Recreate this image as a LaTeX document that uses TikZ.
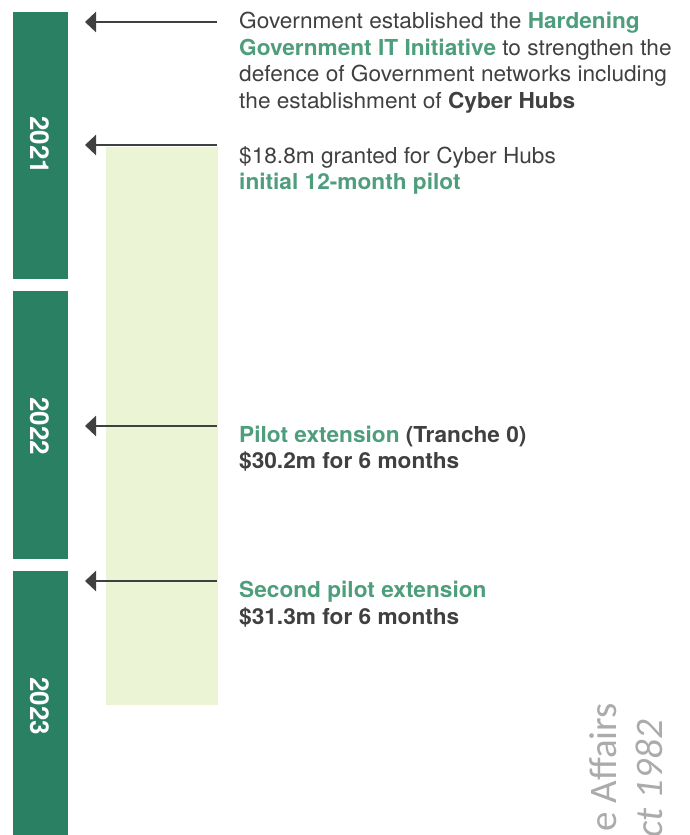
\documentclass[tikz,border=0pt]{standalone}
\usepackage{fontspec}
\setmainfont[FakeStretch=1.03]{TeX Gyre Heros}
\newfontfamily\yearfont{TeX Gyre Heros}
\newfontfamily\wmfont{Carlito}
\usetikzlibrary{arrows.meta}
\definecolor{bargreen}{HTML}{2A8062}
\definecolor{palegreen}{HTML}{EBF5D5}
\definecolor{txtgreen}{HTML}{4E9E7E}
\definecolor{txtgray}{HTML}{404040}
\definecolor{arrgray}{HTML}{404040}
\definecolor{wmgray}{HTML}{ABABAB}
\tikzset{
  yearbar/.style={fill=bargreen, draw=none},
  yearlbl/.style={text=white, font=\yearfont\fontsize{26}{26}\selectfont\bfseries, rotate=-90, inner sep=0pt, anchor=center},
  ptr/.style={draw=arrgray, line width=2.5pt, -{Triangle[length=11pt,width=20pt]}},
  txtline/.style={text=txtgray, font=\fontsize{22}{27}\selectfont, inner sep=0pt, anchor=base west},
  wm/.style={text=wmgray, font=\fontsize{39}{39}\selectfont\wmfont, inner sep=0pt, rotate=90, anchor=base east}
}
\newcommand{\grn}[1]{\textcolor{txtgreen}{\bfseries #1}}
\newcommand{\drk}[1]{{\bfseries #1}}
\begin{document}
\begin{tikzpicture}[x=1pt,y=-1pt]
\useasboundingbox (0,0) rectangle (689,835);
\clip (0,0) rectangle (689,835);
% year bars
\path[yearbar] (13,12) rectangle (68,279);
\path[yearbar] (13,291) rectangle (68,559);
\path[yearbar] (13,571) rectangle (68,840);
\node[yearlbl] (y1) at (39.5,145) {2021};
\node[yearlbl] (y2) at (39.5,426) {2022};
\node[yearlbl] (y3) at (39.5,706) {2023};
% pilot period band
\path[fill=palegreen] (106,147) rectangle (218,705);
% arrows
\coordinate (s1) at (217,22);   \coordinate (e1) at (85,22);
\coordinate (s2) at (217,145);  \coordinate (e2) at (85,145);
\coordinate (s3) at (217,426);  \coordinate (e3) at (85,426);
\coordinate (s4) at (217,581);  \coordinate (e4) at (85,581);
\draw[ptr] (s1) -- (e1);
\draw[ptr] (s2) -- (e2);
\draw[ptr] (s3) -- (e3);
\draw[ptr] (s4) -- (e4);
% text blocks
\node[txtline] (t1a) at (239,28) {Government established the \grn{Hardening}};
\node[txtline] (t1b) at (239,55) {\grn{Government IT Initiative} to strengthen the};
\node[txtline] (t1c) at (239,81.5) {defence of Government networks including};
\node[txtline] (t1d) at (239,108.5) {the establishment of \drk{Cyber Hubs}};
\node[txtline] (t2a) at (239,163) {\$18.8m granted for Cyber Hubs};
\node[txtline] (t2b) at (239,189) {\grn{initial 12-month pilot}};
\node[txtline] (t3a) at (239,442) {\grn{Pilot extension} \drk{(Tranche 0)}};
\node[txtline] (t3b) at (239,468.5) {\drk{\$30.2m for 6 months}};
\node[txtline] (t4a) at (239,597.5) {\grn{Second pilot extension}};
\node[txtline] (t4b) at (239,624.5) {\drk{\$31.3m for 6 months}};
% watermark
\node[wm] (w1) at (616,703) {e Affairs};
\node[wm] (w2) at (662,720) {\itshape ct 1982};
\end{tikzpicture}
\end{document}
